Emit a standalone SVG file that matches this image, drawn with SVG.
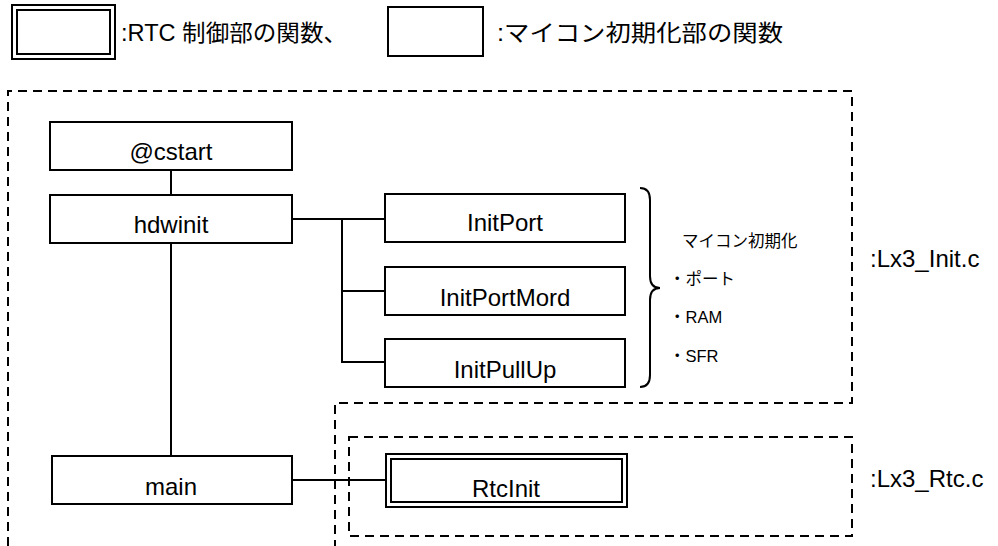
<svg xmlns="http://www.w3.org/2000/svg" width="998" height="546" viewBox="0 0 998 546">
<style>
.box{fill:#fff;stroke:#000;stroke-width:2}
.dbl{fill:none;stroke:#000;stroke-width:2}
.dash{fill:none;stroke:#000;stroke-width:2;stroke-dasharray:9 6}
.ln{fill:none;stroke:#000;stroke-width:2}
.lbl{font-family:"Liberation Sans","Noto Sans CJK JP",sans-serif;font-size:24px;fill:#000;text-anchor:middle}
.t{font-family:"Liberation Sans","Noto Sans CJK JP",sans-serif;fill:#000}
</style>
<rect width="998" height="546" fill="#fff"/>
<g id="legend">
<rect class="dbl" x="12" y="5" width="103" height="54"/>
<rect class="dbl" x="17" y="10" width="93" height="44"/>
<text class="t" x="121" y="41" font-size="23" textLength="226" lengthAdjust="spacingAndGlyphs">:RTC 制御部の関数、</text>
<rect class="box" x="388" y="7" width="95" height="49"/>
<text class="t" x="497" y="41" font-size="23" textLength="286" lengthAdjust="spacingAndGlyphs">:マイコン初期化部の関数</text>
</g>
<g id="regions">
<path class="dash" d="M8,546 V91 H852 V403 H335 V546"/>
<rect class="dash" x="349" y="437" width="503" height="99"/>
<text class="t" x="870" y="267" font-size="24">:Lx3_Init.c</text>
<text class="t" x="870" y="487" font-size="24">:Lx3_Rtc.c</text>
</g>
<g id="connectors">
<path class="ln" d="M171,170 V195"/>
<path class="ln" d="M171,243 V456"/>
<path class="ln" d="M292,219 H385"/>
<path class="ln" d="M342,219 V362 H385"/>
<path class="ln" d="M342,291 H385"/>
<path class="ln" d="M292,480 H386"/>
</g>
<g id="cstart"><rect class="box" x="50" y="122" width="242" height="48"/><text class="lbl" x="171" y="160">@cstart</text></g>
<g id="hdwinit"><rect class="box" x="50" y="195" width="242" height="48"/><text class="lbl" x="171" y="233">hdwinit</text></g>
<g id="InitPort"><rect class="box" x="385" y="194" width="240" height="48"/><text class="lbl" x="505" y="231">InitPort</text></g>
<g id="InitPortMord"><rect class="box" x="385" y="267" width="240" height="48"/><text class="lbl" x="505" y="306">InitPortMord</text></g>
<g id="InitPullUp"><rect class="box" x="385" y="339" width="240" height="48"/><text class="lbl" x="505" y="378">InitPullUp</text></g>
<g id="main"><rect class="box" x="52" y="456" width="240" height="48"/><text class="lbl" x="171" y="495">main</text></g>
<g id="RtcInit">
<rect class="box" x="386" y="454" width="241" height="53"/>
<rect class="dbl" x="391" y="459" width="231" height="43"/>
<text class="lbl" x="506" y="497">RtcInit</text>
</g>
<g id="note">
<path class="ln" d="M640,188 Q650,188 650,200 V276 Q650,288 660,288 Q650,288 650,300 V375 Q650,387 640,387"/>
<text class="t" x="682" y="247" font-size="16.5">マイコン初期化</text>
<text class="t" x="669" y="285" font-size="16.5">・ポート</text>
<text class="t" x="669" y="323" font-size="16.5">・RAM</text>
<text class="t" x="669" y="362" font-size="16.5">・SFR</text>
</g>
</svg>
